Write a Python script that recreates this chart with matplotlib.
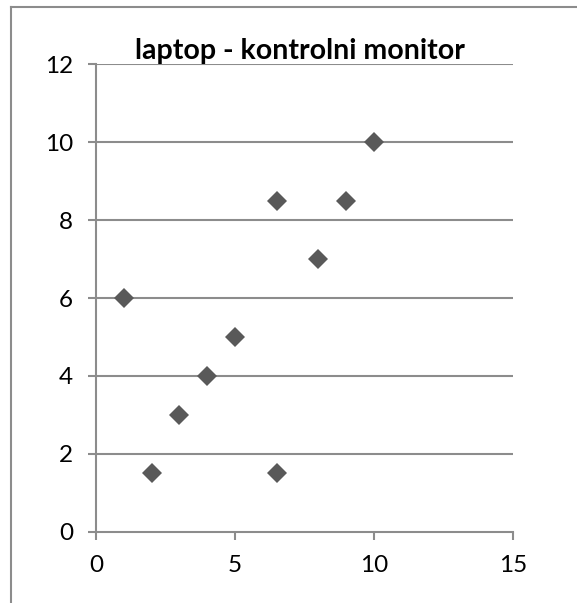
import matplotlib.pyplot as plt
from matplotlib.lines import Line2D

# laptop vs kontrolni monitor
x_vals = [1, 2, 3, 4, 5, 6.5, 6.5, 8, 9, 10]
y_vals = [6, 1.5, 3, 4, 5, 8.5, 1.5, 7, 8.5, 10]
title = "laptop - kontrolni monitor"
x_ticks = [0, 5, 10, 15]
y_ticks = [0, 2, 4, 6, 8, 10, 12]

GRAY = "#8c8c8c"
MARK = "#595959"

plt.rcParams['font.family'] = ['Lato', 'DejaVu Sans']

fig = plt.figure(figsize=(5.77, 6.03), dpi=100)
ax = fig.add_axes([96 / 577, 1 - 531.7 / 603, (512.7 - 96) / 577, (531.7 - 64.3) / 603])

ax.plot(x_vals, y_vals, linestyle="none", marker="D", markersize=10.5,
        color=MARK, markeredgewidth=0, clip_on=False, zorder=3)

ax.set_xlim(x_ticks[0], x_ticks[-1])
ax.set_ylim(y_ticks[0], y_ticks[-1])
ax.set_xticks(x_ticks)
ax.set_yticks(y_ticks)

for y in y_ticks[1:]:
    ax.axhline(y, color=GRAY, lw=1.5, zorder=1)

for side in ["top", "right"]:
    ax.spines[side].set_visible(False)
for side in ["left", "bottom"]:
    ax.spines[side].set_color(GRAY)
    ax.spines[side].set_linewidth(1.5)

ax.tick_params(axis="both", colors=GRAY, width=1.5, length=5.5, labelsize=17.5,
               labelcolor="black")
ax.tick_params(axis="y", pad=11)
ax.tick_params(axis="x", pad=11)

ax.set_title(title, fontsize=20.5, fontweight="bold", pad=3, x=0.49)

# outer chart border (left and top only visible)
fig.add_artist(Line2D([10.7 / 577, 10.7 / 577], [0, 1 - 7.3 / 603],
                      transform=fig.transFigure, color=GRAY, lw=1.5))
fig.add_artist(Line2D([10.7 / 577, 1], [1 - 7.3 / 603, 1 - 7.3 / 603],
                      transform=fig.transFigure, color=GRAY, lw=1.5))

fig.savefig("out.png", dpi=100)
